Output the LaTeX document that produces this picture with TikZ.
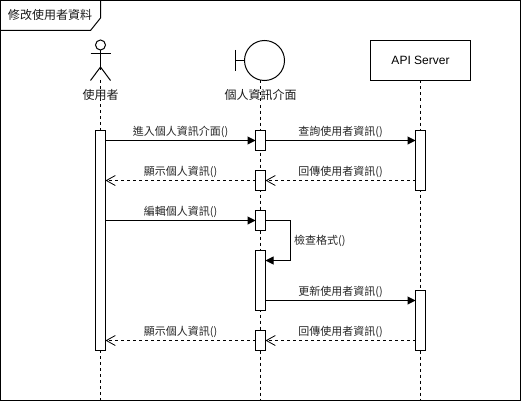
\documentclass[tikz,border=0pt]{standalone}
\usepackage{fontspec}
\setmainfont{Liberation Sans}
\newfontfamily\cjk{Noto Sans CJK TC}
\usetikzlibrary{arrows.meta,calc}
\tikzset{
  line/.style={draw=black,line width=1pt},
  lifeline/.style={line,dash pattern=on 3pt off 3pt},
  bar/.style={line,fill=white,minimum width=10pt,inner sep=0pt,outer sep=0pt,anchor=north west},
  msg/.style={line,-{Triangle[length=8pt,width=8pt]}},
  ret/.style={line,dash pattern=on 3pt off 3pt,-{Straight Barb[length=9pt,width=10pt,line width=0.8pt]}},
  lbl/.style={font=\cjk\fontsize{11}{13}\selectfont,inner sep=0pt,text=black!85},
  actorlbl/.style={font=\cjk\fontsize{12}{14}\selectfont,inner sep=0pt,text=black!90}
}
\begin{document}
\begin{tikzpicture}[x=1pt,y=-1pt]
\useasboundingbox (0,0) rectangle (521,401);
\fill[white] (0,0) rectangle (521,401);
% frame
\draw[line] (0.5,0.5) rectangle (520.5,400.5);
\draw[line] (0.5,30.5) -- (90.5,30.5) -- (100.5,18) -- (100.5,0.5);
\node[actorlbl] (title) at (50,14.5) {修改使用者資料};
% participants
\coordinate (user) at (100.5,80);
\draw[line] (100.5,45) circle (5);
\draw[line] (100.5,50) -- (100.5,70);
\draw[line] (90.5,53.5) -- (110.5,53.5);
\draw[line] (90.5,80.5) -- (100.5,67) -- (110.5,80.5);
\node[line,circle,minimum size=40pt,inner sep=0pt,outer sep=0pt] (ui) at (264.5,60.5) {};
\draw[line] (235.5,50) -- (235.5,71);
\draw[line] (235.5,60.5) -- (ui.west);
\coordinate (uib) at (260.5,80.5);
\node[line,minimum width=100pt,minimum height=40pt,inner sep=0pt,outer sep=0pt,font=\fontsize{12}{14}\selectfont] (srv) at (420.5,60.5) {API Server};
% lifelines
\coordinate (uend) at (100.5,400);
\coordinate (iend) at (260.5,400);
\coordinate (send) at (420.5,400);
\draw[lifeline] (user) -- (uend);
\draw[lifeline] (uib) -- (iend);
\draw[lifeline] (srv.south) -- (send);
\node[actorlbl] (ulbl) at (100.5,95) {使用者};
\node[actorlbl] (ilbl) at (260.5,95) {個人資訊介面};
% activation bars
\node[bar,minimum height=220pt] (u) at (95.5,130.5) {};
\node[bar,minimum height=20pt] (a1) at (255.5,130.5) {};
\node[bar,minimum height=20pt] (a2) at (255.5,170.5) {};
\node[bar,minimum height=20pt] (a3) at (255.5,210.5) {};
\node[bar,minimum height=60pt] (a4) at (255.5,250.5) {};
\node[bar,minimum height=20pt] (a5) at (255.5,330.5) {};
\node[bar,minimum height=60pt] (s1) at (415.5,130.5) {};
\node[bar,minimum height=60pt] (s2) at (415.5,290.5) {};
\coordinate (selfin) at (265.5,260.5);
\coordinate (updout) at (265.5,300.5);
% messages
\draw[msg] (u.east |- a1.west) -- (a1.west);
\draw[msg] (a1.east) -- (s1.west |- a1.east);
\draw[ret] (a2.west) -- (u.east |- a2.west);
\draw[ret] (s1.west |- a2.east) -- (a2.east);
\draw[msg] (u.east |- a3.west) -- (a3.west);
\draw[msg] (a3.east) -- (290.5,220.5) |- (selfin);
\draw[msg] (updout) -- (s2.west |- updout);
\draw[ret] (a5.west) -- (u.east |- a5.west);
\draw[ret] (s2.west |- a5.east) -- (a5.east);
% labels
\node[lbl] (m1) at (180.5,132) {進入個人資訊介面()};
\node[lbl] (m2) at (340.5,132) {查詢使用者資訊()};
\node[lbl] (m3) at (180.5,172) {顯示個人資訊()};
\node[lbl] (m4) at (340.5,172) {回傳使用者資訊()};
\node[lbl] (m5) at (180.5,212) {編輯個人資訊()};
\node[lbl,anchor=west] (m6) at (294,240.5) {檢查格式()};
\node[lbl] (m7) at (340.5,292) {更新使用者資訊()};
\node[lbl] (m8) at (180.5,332) {顯示個人資訊()};
\node[lbl] (m9) at (340.5,332) {回傳使用者資訊()};
\end{tikzpicture}
\end{document}
